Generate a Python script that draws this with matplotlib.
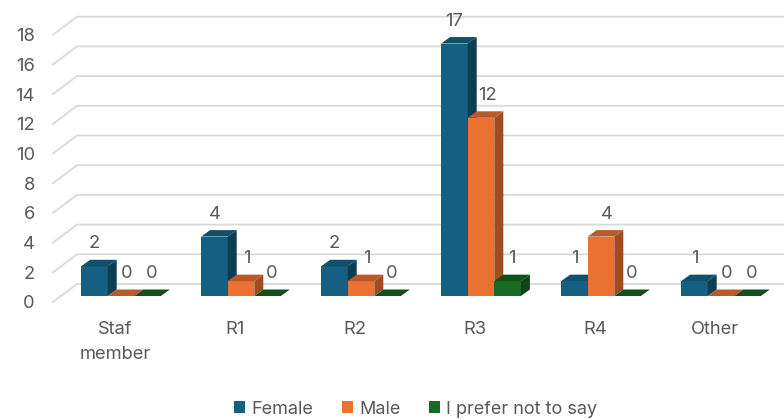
import matplotlib
matplotlib.use('Agg')
import matplotlib.pyplot as plt
from matplotlib.patches import Patch, Polygon

plt.rcParams['font.family'] = ['Inter', 'DejaVu Sans']

categories = ['Staf\nmember', 'R1', 'R2', 'R3', 'R4', 'Other']
female = [2, 4, 2, 17, 1, 1]
male = [0, 1, 1, 12, 4, 0]
no_say = [0, 0, 0, 1, 0, 0]
series_names = ['Female', 'Male', 'I prefer not to say']
y_ticks = [0, 2, 4, 6, 8, 10, 12, 14, 16, 18]

text_color = '#595959'
grid_color = '#d9d9d9'
font_size = 13.2
# front, top, side colours of each series
colors = [('#156082', '#114f6b', '#0d3e54'),
          ('#e97132', '#b95a28', '#a04d22'),
          ('#196b24', '#125019', '#0f4415')]

W, H = 784, 420
px_x = 120.0       # pixels per category
px_y = 14.85       # pixels per unit
left, right, floor_y = 53, 784, 302

fig = plt.figure(figsize=(W / 100, H / 100), dpi=100)
ax = fig.add_axes([left / W, 1 - floor_y / H, (right - left) / W, floor_y / H])
ax.set_xlim((left - 115) / px_x, (right - 115) / px_x)
ax.set_ylim(0, floor_y / px_y)
for s in ax.spines.values():
    s.set_visible(False)

# depth of the fake 3D in data units
wall_dx, wall_dy = 24 / px_x, 18 / px_y
bar_dx, bar_dy = 9 / px_x, 6.5 / px_y
lift = 6 / px_y        # bars sit a little above the wall's front edge
bar_w = 26.6 / px_x
shift = 6 / px_x
x_min = ax.get_xlim()[0]
x_max = ax.get_xlim()[1]

# walls
for v in y_ticks:
    ax.plot([x_min, x_min + wall_dx, x_max], [v, v + wall_dy, v + wall_dy],
            color=grid_color, lw=1.3, zorder=1, clip_on=False, solid_joinstyle='miter')

label_dx = [0, 6, 4]   # pixels
for j, values in enumerate([female, male, no_say]):
    front, top_c, side_c = colors[j]
    for i, v in enumerate(values):
        x0 = i + shift + (j - 1.5) * bar_w
        x1 = x0 + bar_w
        z = 3 + j
        ax.bar(x0, v, width=bar_w, bottom=lift, align='edge', color=front, zorder=z, lw=0)
        t = v + lift
        ax.add_patch(Polygon([(x0, t), (x1, t), (x1 + bar_dx, t + bar_dy), (x0 + bar_dx, t + bar_dy)],
                             closed=True, fc=top_c, ec='none', zorder=z))
        if v > 0:
            ax.add_patch(Polygon([(x1, lift), (x1, t), (x1 + bar_dx, t + bar_dy), (x1 + bar_dx, lift + bar_dy)],
                                 closed=True, fc=side_c, ec='none', zorder=z))
        ax.annotate(str(v), ((x0 + x1) / 2, t), xytext=(label_dx[j] * 0.72, 22.5 * 0.72),
                    textcoords='offset points', ha='center', va='center',
                    fontsize=font_size, color=text_color, zorder=10)

ax.set_xticks(range(len(categories)))
ax.set_xticklabels(categories, fontsize=font_size, color=text_color, linespacing=1.6)
ax.set_yticks(y_ticks)
ax.set_yticklabels(y_ticks, fontsize=font_size, color=text_color)
ax.tick_params(axis='x', length=0, pad=14)
ax.tick_params(axis='y', length=0, pad=13)

handles = [Patch(fc=c[0], ec='none') for c in colors]
fig.legend(handles, series_names, loc='center', bbox_to_anchor=(416 / W, 1 - 409 / H),
           ncol=3, frameon=False, fontsize=13, labelcolor=text_color,
           handlelength=0.61, handleheight=0.61, handletextpad=0.33, columnspacing=1.6)

fig.savefig('out.png', dpi=100, facecolor='white')
